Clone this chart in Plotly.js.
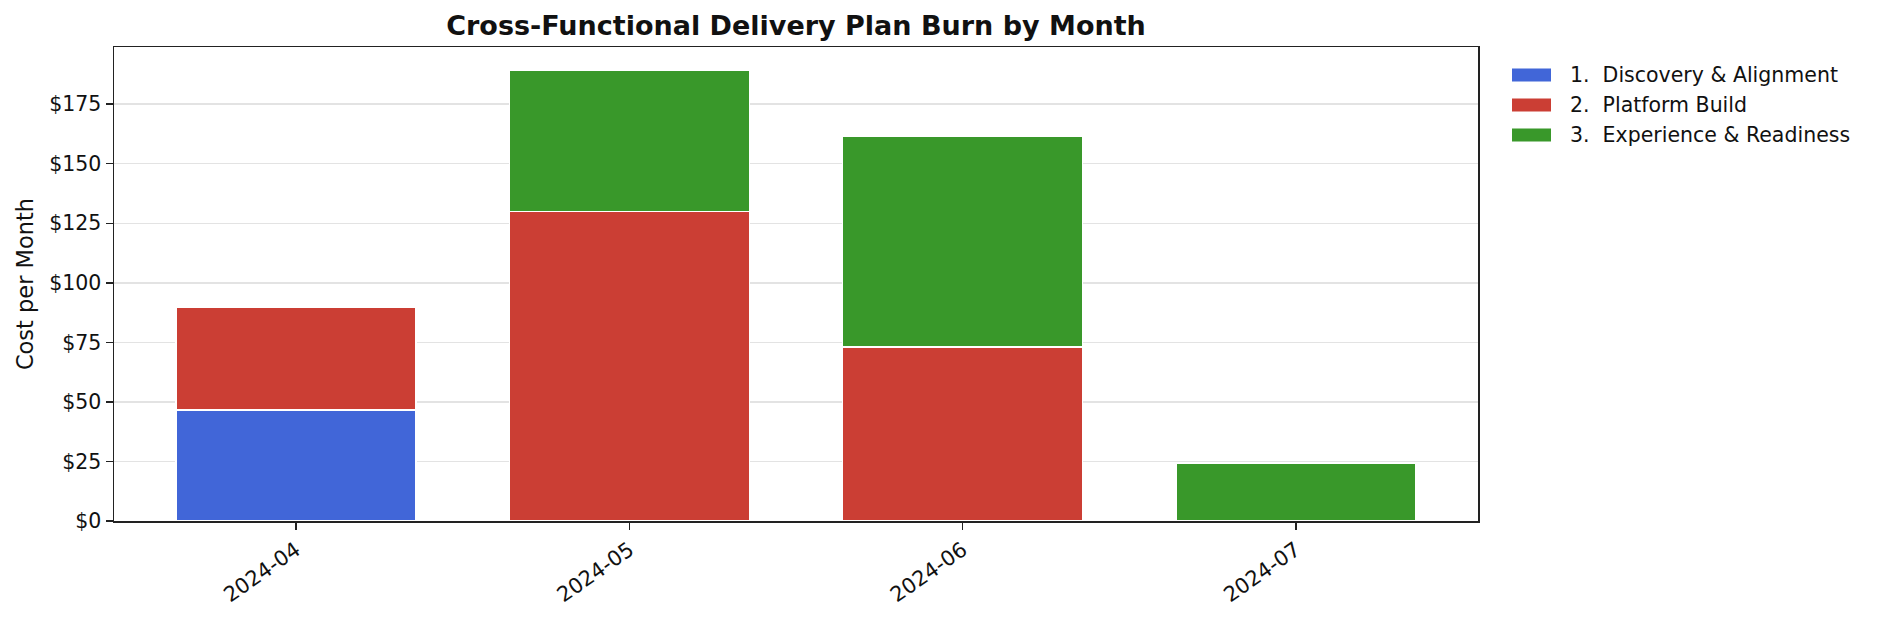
<!DOCTYPE html>
<html>
<head>
<meta charset="utf-8">
<script src="https://cdn.plot.ly/plotly-3.0.1.min.js"></script>
<style>html,body{margin:0;padding:0;background:#fff;}#chart{width:1878px;height:618px;}</style>
</head>
<body>
<div id="chart"></div>
<script>
const months = ["2024-04", "2024-05", "2024-06", "2024-07"];
const seriesNames = ["1.  Discovery & Alignment", "2.  Platform Build", "3.  Experience & Readiness"];
const discovery = [46.6, 0, 0, 0];
const platform = [43.2, 130.0, 73.1, 0];
const experience = [0, 59.0, 88.4, 24.2];
const yTickVals = [0, 25, 50, 75, 100, 125, 150, 175];
const yTickText = ["$0", "$25", "$50", "$75", "$100", "$125", "$150", "$175"];
const colors = ["#4166D8", "#CB3E34", "#39982A"];

const values = [discovery, platform, experience];
const traces = values.map((v, i) => ({
  type: "bar",
  x: months,
  y: v,
  name: seriesNames[i],
  marker: {color: colors[i], line: {color: "#ffffff", width: 1.3}},
  showlegend: false,
  hoverinfo: "x+y+name"
}));

const font = "DejaVu Sans, sans-serif";
const L = 114, R = 1478, T = 47, B = 521;
const PW = R - L, PH = B - T;
const shapes = [];
const annotations = [];
const legRows = [75, 105, 135];
seriesNames.forEach((n, i) => {
  const yc = 1 - (legRows[i] - T) / PH;
  shapes.push({type: "rect", xref: "paper", yref: "paper",
    x0: (1512 - L) / PW, x1: (1551 - L) / PW,
    y0: yc - 6.5 / PH, y1: yc + 6.5 / PH, fillcolor: colors[i], line: {width: 0}});
  annotations.push({xref: "paper", yref: "paper", x: (1568 - L) / PW, y: yc, xanchor: "left", yanchor: "middle",
    text: n, showarrow: false, font: {family: font, size: 20.5, color: "#111"}});
});

const layout = {
  width: 1878, height: 618,
  margin: {l: L, r: 1878 - R, t: T, b: 618 - B},
  paper_bgcolor: "#fff", plot_bgcolor: "#fff",
  barmode: "stack",
  bargap: 0.28,
  font: {family: font, color: "#111"},
  title: {text: "<b>Cross-Functional Delivery Plan Burn by Month</b>", font: {family: font, size: 27, color: "#111"},
    x: 796 / 1878, xanchor: "center", y: 1 - 26 / 618, yanchor: "middle"},
  xaxis: {
    type: "category", range: [-0.546, 3.546],
    tickangle: -35, tickfont: {family: font, size: 21, color: "#111"},
    ticks: "outside", ticklen: 7, tickwidth: 1.5, tickcolor: "#222",
    showline: true, linecolor: "#222", linewidth: 1.5, mirror: true,
    showgrid: false, zeroline: false
  },
  yaxis: {
    range: [0, 199], tickvals: yTickVals, ticktext: yTickText,
    tickfont: {family: font, size: 20.5, color: "#111"},
    ticks: "outside", ticklen: 7, tickwidth: 1.5, tickcolor: "#222",
    showline: true, linecolor: "#222", linewidth: 1.5, mirror: true,
    showgrid: true, gridcolor: "#e3e3e3", gridwidth: 1.5, zeroline: false,
    title: {text: "Cost per Month", font: {family: font, size: 22.5, color: "#111"}, standoff: 9}
  },
  shapes: shapes,
  annotations: annotations
};

Plotly.newPlot("chart", traces, layout, {displayModeBar: false, staticPlot: true});
</script>
</body>
</html>
